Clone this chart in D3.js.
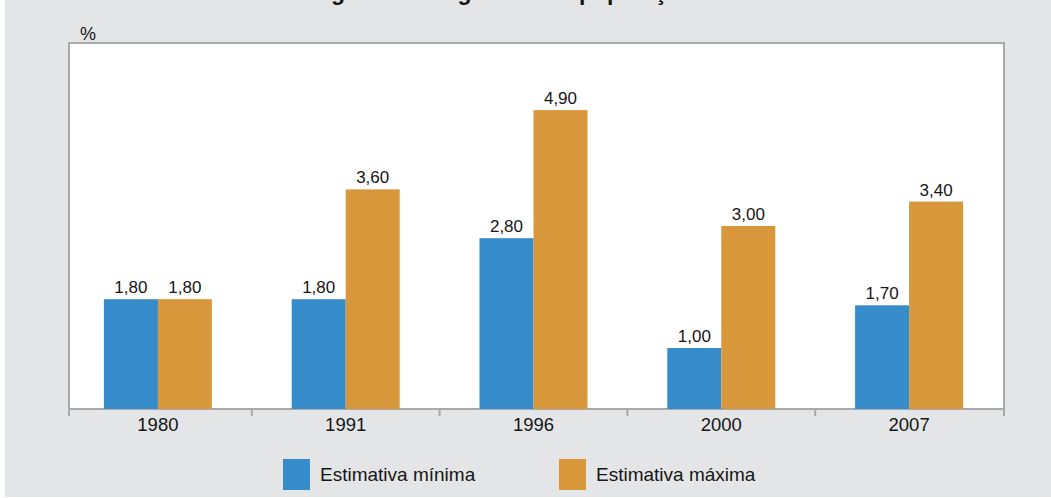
<!DOCTYPE html>
<html>
<head>
<meta charset="utf-8">
<script src="https://cdn.jsdelivr.net/npm/d3@7"></script>
<style>
  body { margin: 0; background: #fff; }
  text { font-family: "Liberation Sans", Arial, sans-serif; fill: #161616; }
</style>
</head>
<body>
<script>
// chart data
var years = ["1980", "1991", "1996", "2000", "2007"];
var minimo = [1.80, 1.80, 2.80, 1.00, 1.70];
var maximo = [1.80, 3.60, 4.90, 3.00, 3.40];
var series = ["Estimativa mínima", "Estimativa máxima"];
var colors = ["#368bcb", "#d9973b"];
var title = "Estimativa de imigrantes irregulares na população";

var width = 1051,
    height = 498,
    svg = d3.select("body")
    .append("svg")
    .attr("width", width)
    .attr("height", height);

// grey card
svg.append("rect")
    .attr("x", 5).attr("y", 0)
    .attr("width", width - 5).attr("height", 497)
    .attr("fill", "#e4e5e7");

// title, cut at the top of the picture like in the source
var t = svg.append("text")
    .attr("y", 0)
    .attr("font-weight", "bold")
    .attr("font-size", 23)
    .text(title);
var idx = title.indexOf("população");
var off = t.node().getSubStringLength(0, idx);
t.attr("x", 579 - off);

var frame = {left: 69, top: 43, right: 1004, bottom: 409};

svg.append("rect")
    .attr("x", frame.left).attr("y", frame.top)
    .attr("width", frame.right - frame.left)
    .attr("height", frame.bottom - frame.top)
    .attr("fill", "#fff")
    .attr("stroke", "#a9a9a9")
    .attr("stroke-width", 2);

var x = d3.scaleBand()
    .domain(years)
    .range([64, 1003]);

var barW = 54;
var x1 = d3.scaleBand()
    .domain(series)
    .range([x.bandwidth() / 2 - barW, x.bandwidth() / 2 + barW]);

var y = d3.scaleLinear()
    .domain([0, 6])
    .range([frame.bottom, frame.top]);

var rows = years.map(function(d, i) {
  return {year: d, values: [minimo[i], maximo[i]]};
});

var groups = svg.append("g").selectAll("g")
  .data(rows)
  .enter().append("g")
    .attr("transform", function(d) { return "translate(" + x(d.year) + ",0)"; });

groups.selectAll("rect")
  .data(function(d) { return d.values.map(function(v, i) { return {k: series[i], v: v, i: i}; }); })
  .enter().append("rect")
    .attr("x", function(d) { return x1(d.k); })
    .attr("width", x1.bandwidth())
    .attr("y", function(d) { return y(d.v); })
    .attr("height", function(d) { return y(0) - y(d.v); })
    .attr("fill", function(d) { return colors[d.i]; });

groups.selectAll("text")
  .data(function(d) { return d.values.map(function(v, i) { return {k: series[i], v: v}; }); })
  .enter().append("text")
    .attr("x", function(d) { return x1(d.k) + x1.bandwidth() / 2; })
    .attr("y", function(d) { return y(d.v) - 6; })
    .attr("text-anchor", "middle")
    .attr("font-size", 17)
    .text(function(d) { return d.v.toFixed(2).replace(".", ","); });

// bottom axis
var ax = svg.append("g")
    .attr("transform", "translate(0," + frame.bottom + ")")
    .call(d3.axisBottom(x).tickSize(0).tickPadding(9));
ax.select(".domain").remove();
ax.selectAll("text")
    .attr("font-size", 18.5)
    .attr("fill", "#161616")
    .attr("font-family", "'Liberation Sans', Arial, sans-serif");

var tickX = years.slice(1).map(function(d) { return x(d); });
tickX = [frame.left].concat(tickX).concat([frame.right]);
svg.append("g").selectAll("line")
  .data(tickX)
  .enter().append("line")
    .attr("x1", function(d) { return d; })
    .attr("x2", function(d) { return d; })
    .attr("y1", frame.bottom)
    .attr("y2", frame.bottom + 7)
    .attr("stroke", "#a9a9a9")
    .attr("stroke-width", 2);

svg.append("text")
    .attr("x", 80)
    .attr("y", 40)
    .attr("font-size", 18)
    .text("%");

// legend
var legX = [283, 559];
var leg = svg.append("g").selectAll("g")
  .data(series)
  .enter().append("g")
    .attr("transform", function(d, i) { return "translate(" + legX[i] + ",459)"; });
leg.append("rect")
    .attr("width", 27)
    .attr("height", 31)
    .attr("fill", function(d, i) { return colors[i]; });
leg.append("text")
    .attr("x", 37)
    .attr("y", 22)
    .attr("font-size", 19)
    .text(function(d) { return d; });
</script>
</body>
</html>
